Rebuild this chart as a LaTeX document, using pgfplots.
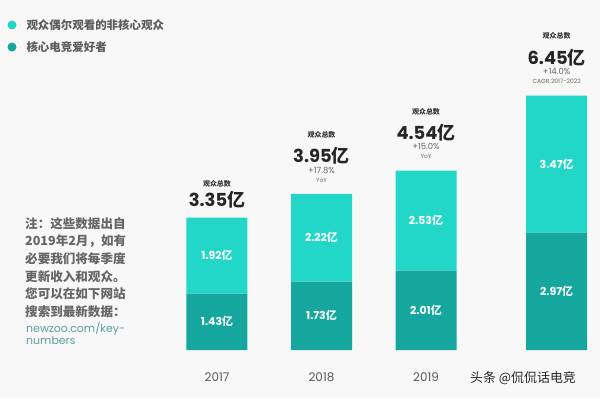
\documentclass[border=0pt]{standalone}
\usepackage{fontspec}
\setmainfont{Noto Sans CJK SC}
\newfontfamily\pop{Poppins}
\usepackage{pgfplots}
\pgfplotsset{compat=1.18}
\definecolor{cyanbar}{HTML}{22D7C7}
\definecolor{tealbar}{HTML}{15A79E}
\definecolor{bg}{HTML}{F8F8F8}
\definecolor{txt}{HTML}{333333}
\definecolor{gtxt}{HTML}{666666}
\definecolor{link}{HTML}{5C9EA0}
\newcommand{\yi}[1]{{\pop\bfseries #1}{\bfseries 亿}}
\tikzset{
  tlab/.style={inner sep=0pt, font=\fontsize{7}{8}\selectfont\bfseries, text=txt},
  tbig/.style={inner sep=0pt, font=\fontsize{18}{20}\selectfont, text=black!85},
  tpct/.style={inner sep=0pt, font=\fontsize{8.5}{9}\selectfont\pop, text=gtxt},
  tsub/.style={inner sep=0pt, font=\fontsize{6}{7}\selectfont\pop, text=gtxt},
  seg/.style={text=white, font=\fontsize{11}{13}\selectfont},
}
\begin{document}
\begin{tikzpicture}[x=1bp,y=1bp]
\fill[bg] (0,0) rectangle (600,398);
\useasboundingbox (0,0) rectangle (600,398);
\begin{axis}[
  at={(150bp,48bp)}, anchor=south west,
  scale only axis, width=450bp, height=276.5bp,
  xmin=-0.641, xmax=3.665, ymin=0, ymax=7,
  ybar stacked, bar width=61bp,
  axis line style={draw=none}, tick style={draw=none},
  ytick=\empty, xtick={0,1,2}, xticklabels={2017,2018,2019},
  xticklabel style={yshift=-19bp, font=\fontsize{12}{14}\selectfont\pop, text=black!65},
  clip=false,
]
\addplot[fill=tealbar, draw=none] coordinates {(0,1.43) (1,1.73) (2,2.01) (3.25,2.97)};
\addplot[fill=cyanbar, draw=none] coordinates {(0,1.92) (1,2.22) (2,2.53) (3.25,3.47)};
% segment label anchors
\coordinate (a1) at (axis cs:0,0.715);
\coordinate (b1) at (axis cs:0,2.39);
\coordinate (a2) at (axis cs:1,0.865);
\coordinate (b2) at (axis cs:1,2.84);
\coordinate (a3) at (axis cs:2,1.005);
\coordinate (b3) at (axis cs:2,3.275);
\coordinate (a4) at (axis cs:3.25,1.485);
\coordinate (b4) at (axis cs:3.25,4.705);
% totals
\node[tlab, yshift=34bp] at (axis cs:0,3.35) {观众总数};
\node[tbig, yshift=18bp] at (axis cs:0,3.35) {\yi{3.35}};
\node[tlab, yshift=59bp] at (axis cs:1,3.95) {观众总数};
\node[tbig, yshift=38bp] at (axis cs:1,3.95) {\yi{3.95}};
\node[tpct, yshift=24bp] at (axis cs:1,3.95) {+17.8\%};
\node[tsub, yshift=14bp] at (axis cs:1,3.95) {YoY};
\node[tlab, yshift=59bp] at (axis cs:2,4.54) {观众总数};
\node[tbig, yshift=38bp] at (axis cs:2,4.54) {\yi{4.54}};
\node[tpct, yshift=24bp] at (axis cs:2,4.54) {+15.0\%};
\node[tsub, yshift=14bp] at (axis cs:2,4.54) {YoY};
\node[tlab, yshift=59bp] at (axis cs:3.25,6.45) {观众总数};
\node[tbig, yshift=38bp] at (axis cs:3.25,6.45) {\yi{6.45}};
\node[tpct, yshift=24bp] at (axis cs:3.25,6.45) {+14.0\%};
\node[tsub, yshift=14bp] at (axis cs:3.25,6.45) {CAGR 2017-2022};
\end{axis}
\node[seg] at (a1) {\yi{1.43}};
\node[seg] at (b1) {\yi{1.92}};
\node[seg] at (a2) {\yi{1.73}};
\node[seg] at (b2) {\yi{2.22}};
\node[seg] at (a3) {\yi{2.01}};
\node[seg] at (b3) {\yi{2.53}};
\node[seg] at (a4) {\yi{2.97}};
\node[seg] at (b4) {\yi{3.47}};
% legend
\fill[cyanbar] (12,373) circle (4.5);
\fill[tealbar] (12,351) circle (4.5);
\node[anchor=west, font=\fontsize{11.5}{13}\selectfont\bfseries, text=txt!80] at (23,373) {观众偶尔观看的非核心观众};
\node[anchor=west, font=\fontsize{11.5}{13}\selectfont\bfseries, text=txt!80] at (23,351) {核心电竞爱好者};
% note
\node[anchor=north west, inner sep=0pt, align=left, font=\fontsize{12.6}{17.8}\selectfont\bfseries, text=txt!75] at (25,181) {注：这些数据出自\\2019年2月，如有\\必要我们将每季度\\更新收入和观众。\\您可以在如下网站\\搜索到最新数据：};
\node[anchor=north west, inner sep=0pt, align=left, font=\fontsize{11}{12.5}\selectfont\pop, text=link] at (26,76) {newzoo.com/key-\\numbers};
% watermark
\node[font=\fontsize{13}{15}\selectfont, text=black!85] at (523,20) {头条 @侃侃话电竞};
\end{tikzpicture}
\end{document}
